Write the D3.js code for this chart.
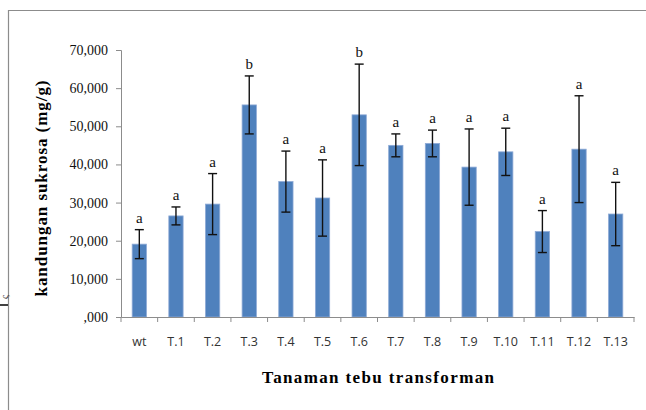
<!DOCTYPE html>
<html><head><meta charset="utf-8">
<script src="https://cdn.jsdelivr.net/npm/d3@7"></script>
<style>body{margin:0;background:#fff}svg{display:block}</style>
</head><body>
<script>
const categories = ["wt","T.1","T.2","T.3","T.4","T.5","T.6","T.7","T.8","T.9","T.10","T.11","T.12","T.13"];
const means = [19.1,26.5,29.6,55.6,35.5,31.2,53.0,45.0,45.5,39.3,43.3,22.4,44.0,27.0];
const errors = [3.8,2.35,8.0,7.6,8.0,10.0,13.3,3.0,3.5,10.0,6.2,5.5,14.0,8.3];
const letters = ["a","a","a","b","a","a","b","a","a","a","a","a","a","a"];
const yTicks = [0,10,20,30,40,50,60,70];
const yTickLabels = [",000","10,000","20,000","30,000","40,000","50,000","60,000","70,000"];
const yTitle = "kandungan sukrosa (mg/g)";
const xTitle = "Tanaman tebu transforman";

const W = 646, H = 410;
const m = {left:121, right:12, top:50, bottom:93};
const svg = d3.select("body").append("svg").attr("width",W).attr("height",H);

// outer frame (only top and left edges visible)
svg.append("path").attr("d","M8.5,420V10.5H660").attr("fill","none").attr("stroke","#8c8c8c").attr("stroke-width",1.2);
// stray artifact on left edge
svg.append("line").attr("x1",0).attr("x2",8).attr("y1",305).attr("y2",305).attr("stroke","#000").attr("stroke-width",1.5);
svg.append("text").attr("transform","translate(8,297) rotate(-90)").attr("text-anchor","middle")
  .attr("font-family","Liberation Serif").attr("font-size",10).attr("fill","#333").text("ς");

const x = d3.scaleBand().domain(categories).range([m.left, W-m.right]).paddingInner(0.61).paddingOuter(0.305);
const xb = d3.scaleBand().domain(categories).range([m.left, W-m.right]);
const y = d3.scaleLinear().domain([0,70]).range([H-m.bottom, m.top]);

const axisColor = "#8c8c8c";
// y axis
const ya = svg.append("g").attr("transform",`translate(${m.left},0)`)
  .call(d3.axisLeft(y).tickValues(yTicks).tickFormat((d,i)=>yTickLabels[i]).tickSizeOuter(0).tickSize(5).tickPadding(8));
ya.select(".domain").attr("stroke",axisColor);
ya.selectAll(".tick line").attr("stroke",axisColor);
ya.selectAll(".tick text").attr("font-family","Liberation Serif").attr("font-size",14).attr("fill","#111");

// bars
svg.append("g").selectAll("rect").data(categories).join("rect")
  .attr("x",d=>x(d)).attr("width",x.bandwidth())
  .attr("y",(d,i)=>y(means[i])).attr("height",(d,i)=>y(0)-y(means[i]))
  .attr("fill","#4f81bd").attr("stroke","#8eaad6").attr("stroke-width",0.8);

// x axis
const xa = svg.append("g").attr("transform",`translate(0,${y(0)})`)
  .call(d3.axisBottom(xb).tickSize(0).tickPadding(20).tickSizeOuter(0));
xa.select(".domain").attr("stroke",axisColor);
xa.selectAll(".tick text").attr("font-family","Open Sans, Liberation Sans").attr("font-size",12.5).attr("fill","#333");
// category boundary ticks
svg.append("g").selectAll("line").data(categories.concat(["__end"])).join("line")
  .attr("x1",(d,i)=> i<categories.length ? xb(d) : xb(categories[categories.length-1])+xb.bandwidth())
  .attr("x2",(d,i)=> i<categories.length ? xb(d) : xb(categories[categories.length-1])+xb.bandwidth())
  .attr("y1",y(0)).attr("y2",y(0)+5).attr("stroke",axisColor);

// error bars
const eg = svg.append("g").attr("stroke","#111").attr("stroke-width",1.4);
categories.forEach((c,i)=>{
  const cx = x(c)+x.bandwidth()/2;
  const top = y(means[i]+errors[i]), bot = y(means[i]-errors[i]);
  eg.append("line").attr("x1",cx).attr("x2",cx).attr("y1",top).attr("y2",bot);
  eg.append("line").attr("x1",cx-4.5).attr("x2",cx+4.5).attr("y1",top).attr("y2",top);
  eg.append("line").attr("x1",cx-4.5).attr("x2",cx+4.5).attr("y1",bot).attr("y2",bot);
});

// significance letters
svg.append("g").selectAll("text").data(categories).join("text")
  .attr("x",d=>x(d)+x.bandwidth()/2)
  .attr("y",(d,i)=>y(means[i]+errors[i])-7)
  .attr("text-anchor","middle").attr("font-family","Liberation Serif").attr("font-size",15)
  .attr("fill","#111").text((d,i)=>letters[i]);

// titles
svg.append("text").attr("transform",`translate(47,${(y(0)+y(70))/2+5}) rotate(-90)`)
  .attr("text-anchor","middle").attr("font-family","Liberation Serif").attr("font-weight","bold")
  .attr("font-size",17).attr("textLength",216).attr("lengthAdjust","spacing").text(yTitle);
svg.append("text").attr("x",378).attr("y",383)
  .attr("text-anchor","middle").attr("font-family","Liberation Serif").attr("font-weight","bold")
  .attr("font-size",17).attr("textLength",232).attr("lengthAdjust","spacing").text(xTitle);
</script>
</body></html>
